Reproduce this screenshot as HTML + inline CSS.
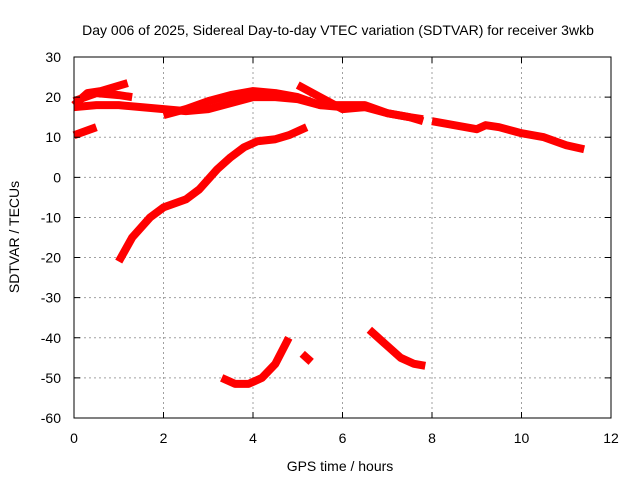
<!DOCTYPE html>
<html><head><meta charset="utf-8"><style>
body{margin:0;background:#fff}
svg{display:block;font-family:"Liberation Sans",sans-serif;font-size:14px}
</style></head><body>
<svg width="640" height="480">
<g id="grid"></g>
<g id="series"></g>
<rect x="74" y="57" width="537" height="361" fill="none" stroke="#000" stroke-width="1"/>
<g id="ticks"></g>
<text x="338" y="35" text-anchor="middle">Day 006 of 2025, Sidereal Day-to-day VTEC variation (SDTVAR) for receiver 3wkb</text>
<text x="340" y="471" text-anchor="middle">GPS time / hours</text>
<text transform="translate(19,237) rotate(-90)" text-anchor="middle">SDTVAR / TECUs</text>
</svg>
<script>
const xTicks=[0,2,4,6,8,10,12];
const yTicks=[30,20,10,0,-10,-20,-30,-40,-50,-60];
const s1=[[0,18],[0.3,21],[0.6,21.5],[1.2,23.5]];
const s2=[[0,19],[0.5,21],[1.0,20.5],[1.3,20]];
const s3=[[0,17.5],[0.5,18],[1.0,18],[1.5,17.5],[2.0,17],[2.5,16.5],[3,17],[3.5,18.5],[4,20],[4.5,20],[5,19.5],[5.5,18],[6,17.5],[6.5,17.5],[7,16],[7.5,15],[7.8,14.5]];
const s4=[[2,15.5],[2.5,17],[3,19],[3.5,20.5],[4,21.5],[4.5,21],[5,20],[5.5,18],[6,18],[6.5,18],[7,16],[7.5,15],[7.8,14]];
const s5=[[5.0,23],[5.5,20],[6,17],[6.5,17.5]];
const s6=[[8,14],[8.5,13],[9,12],[9.2,13],[9.5,12.5],[10,11],[10.5,10],[11,8],[11.4,7]];
const s7=[[0,10.5],[0.5,12.5]];
const s8=[[1,-21],[1.3,-15],[1.7,-10],[2,-7.5],[2.5,-5.5],[2.8,-3],[3.2,2],[3.5,5],[3.8,7.5],[4.1,9],[4.5,9.5],[4.8,10.5],[5.2,12.5]];
const s9=[[3.3,-50],[3.6,-51.5],[3.9,-51.5],[4.2,-50],[4.5,-46.5],[4.8,-40]];
const s10=[[5.1,-44],[5.3,-46]];
const s11=[[6.6,-38],[7,-42],[7.3,-45],[7.6,-46.5],[7.85,-47]];
const allSeries=[s1,s2,s3,s4,s5,s6,s7,s8,s9,s10,s11];
const X=h=>74+h*(537/12);
const Y=v=>57+(30-v)*(361/90);
const NS='http://www.w3.org/2000/svg';
const grid=document.getElementById('grid'),ticks=document.getElementById('ticks'),ser=document.getElementById('series');
function mk(tag,attrs,parent){const e=document.createElementNS(NS,tag);for(const k in attrs)e.setAttribute(k,attrs[k]);parent.appendChild(e);return e;}
xTicks.forEach(t=>{
 const x=X(t);
 if(t>0&&t<12){const g=mk('line',{x1:x,x2:x,y1:57,y2:418,stroke:'#a0a0a0','stroke-dasharray':'2,3'},grid);
 
 }
 const tk=mk('path',{d:`M${x},418v-6M${x},57v6`,stroke:'#000'},ticks);
 
 
 const l=mk('text',{x:x,y:443,'text-anchor':'middle'},ticks);l.textContent=t;
 
 
});
yTicks.forEach(t=>{
 const y=Y(t);
 if(t<30&&t>-60){const g=mk('line',{x1:74,x2:611,y1:y,y2:y,stroke:'#a0a0a0','stroke-dasharray':'2,3'},grid);
 
 }
 const tk=mk('path',{d:`M74,${y}h6M611,${y}h-6`,stroke:'#000'},ticks);
 
 
 const l=mk('text',{x:61,y:y+5,'text-anchor':'end'},ticks);l.textContent=t;
 
 
});
allSeries.forEach((s,i)=>{
 const p=mk('polyline',{points:s.map(d=>X(d[0])+','+Y(d[1])).join(' '),fill:'none',stroke:'#f00','stroke-width':8,'stroke-linejoin':'round','stroke-linecap':'butt'},ser);
 
 
});
</script>
</body></html>
